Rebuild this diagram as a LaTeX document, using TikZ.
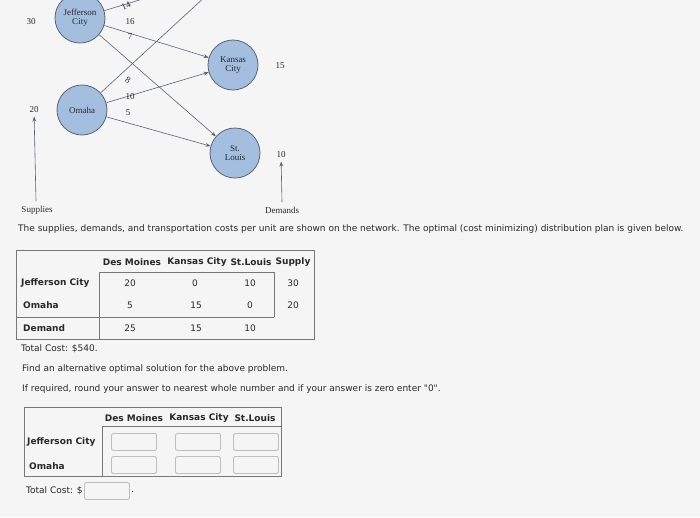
\documentclass[tikz,border=0pt]{standalone}
\usepackage{fontspec}
\usetikzlibrary{arrows.meta}
\setmainfont{Liberation Serif}
\newfontfamily\uif{DejaVu Sans}
\definecolor{nodefill}{RGB}{164,190,224}
\definecolor{edgec}{RGB}{90,100,115}
\definecolor{tabline}{RGB}{120,120,120}
\definecolor{boxline}{RGB}{190,190,190}
\definecolor{txt}{RGB}{40,40,40}
\begin{document}
\begin{tikzpicture}[x=1pt,y=-1pt,
  city/.style={circle,draw=edgec,line width=0.8pt,fill=nodefill,minimum size=50pt,inner sep=0pt,align=center,font=\fontsize{9}{9}\selectfont,text=txt},
  net/.style={font=\fontsize{9}{9}\selectfont,text=txt},
  flow/.style={draw=edgec,line width=0.6pt,-{Stealth[length=5pt]}},
  ui/.style={font=\uif\fontsize{9}{10}\selectfont,text=txt,inner sep=0pt},
  uib/.style={font=\uif\bfseries\fontsize{9}{10}\selectfont,text=txt,inner sep=0pt},
  tl/.style={draw=tabline,line width=0.6pt},
  inbox/.style={draw=boxline,line width=0.9pt,rounded corners=2pt,minimum width=45pt,minimum height=17pt,inner sep=0pt}]
\useasboundingbox (0,0) rectangle (700,517);
\fill[white!96!black] (0,0) rectangle (700,517);
\begin{scope}
\clip (0,0) rectangle (700,517);
\node[city] (jc) at (80,18) {Jefferson\\City};
\node[city] (om) at (82,110) {Omaha};
\node[city] (kc) at (233,65) {Kansas\\City};
\node[city] (sl) at (235,153) {St.\\Louis};
\coordinate (dm) at (232,-28);
\draw[flow] (jc) -- (dm);
\draw[flow] (jc) -- (kc);
\draw[flow] (jc) -- (sl);
\draw[flow] (om) -- (dm);
\draw[flow] (om) -- (kc);
\draw[flow] (om) -- (sl);
\end{scope}
\node[net,rotate=25] (l14) at (126,6) {14};
\node[net] (l16) at (130,22) {16};
\node[net] (l7) at (130,37) {7};
\node[net,rotate=-30] (l8) at (128,80) {8};
\node[net] (l10) at (130,97) {10};
\node[net] (l5) at (128,113) {5};
\node[net] (s30) at (31,22) {30};
\node[net] (s20) at (34,110) {20};
\node[net] (d15) at (280,66) {15};
\node[net] (d10) at (281,155) {10};
\node[net] (sup) at (37,210) {Supplies};
\node[net] (dem) at (282,210) {Demands};
\draw[flow] (36,201) -- (s20);
\draw[flow] (282,202) -- (d10);
\node[ui,anchor=west] (intro) at (18,229) {The supplies, demands, and transportation costs per unit are shown on the network. The optimal (cost minimizing) distribution plan is given below.};
% table 1
\draw[tl] (16,250) rectangle (314,339);
\draw[tl] (99,272) -- (274,272) -- (274,317);
\draw[tl] (99,272) -- (99,339);
\draw[tl] (16,317) -- (274,317);
\node[uib] (h1) at (132,262) {Des Moines};
\node[uib] (h2) at (197,262) {Kansas City};
\node[uib] (h3) at (251,262) {St.Louis};
\node[uib] (h4) at (293,262) {Supply};
\node[uib,anchor=west] (r1) at (21,283) {Jefferson City};
\node[uib,anchor=west] (r2) at (23,305) {Omaha};
\node[uib,anchor=west] (r3) at (23,328) {Demand};
\node[ui] at (130,283) {20}; \node[ui] at (195,283) {0}; \node[ui] at (250,283) {10}; \node[ui] at (293,283) {30};
\node[ui] at (130,305) {5}; \node[ui] at (196,305) {15}; \node[ui] at (250,305) {0}; \node[ui] at (293,305) {20};
\node[ui] at (130,328) {25}; \node[ui] at (196,328) {15}; \node[ui] at (250,328) {10};
\node[ui,anchor=west] (tc) at (21,349) {Total Cost: \$540.};
\node[ui,anchor=west] (q1) at (22,369) {Find an alternative optimal solution for the above problem.};
\node[ui,anchor=west] (q2) at (22,389) {If required, round your answer to nearest whole number and if your answer is zero enter "0".};
% table 2
\draw[tl] (24,407) rectangle (281,476);
\draw[tl] (102,426) -- (281,426);
\draw[tl] (102,426) -- (102,476);
\node[uib] (g1) at (134,418) {Des Moines};
\node[uib] (g2) at (199,418) {Kansas City};
\node[uib] (g3) at (255,418) {St.Louis};
\node[uib,anchor=west] (s1) at (27,442) {Jefferson City};
\node[uib,anchor=west] (s2) at (29,466) {Omaha};
\node[inbox] (b11) at (134,442) {}; \node[inbox] (b12) at (198,442) {}; \node[inbox] (b13) at (256,442) {};
\node[inbox] (b21) at (134,465) {}; \node[inbox] (b22) at (198,465) {}; \node[inbox] (b23) at (256,465) {};
\node[ui,anchor=west] (tc2) at (26,491) {Total Cost: \$};
\node[inbox] (bt) at (107,491) {};
\node[ui,anchor=west] at (131,492) {.};
\end{tikzpicture}
\end{document}
